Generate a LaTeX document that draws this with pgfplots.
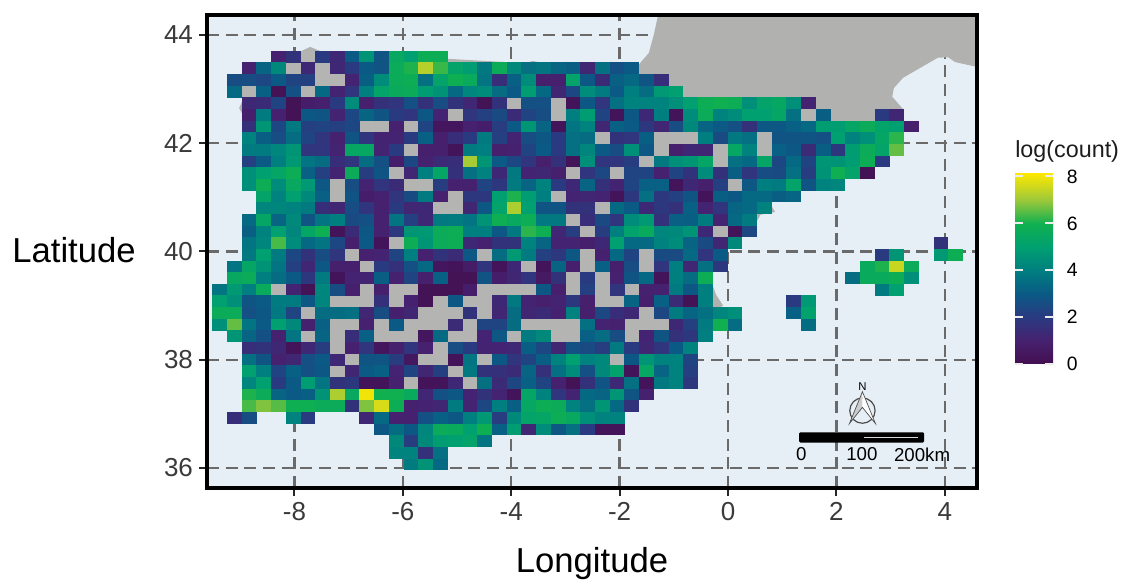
\documentclass[border=0pt]{standalone}
\usepackage{fontspec}
\setmainfont{Liberation Sans}
\usepackage{pgfplots}
\usepackage{pgfplotstable}
\pgfplotsset{compat=1.18}
% grid under the cells and the land, frame over them
\pgfplotsset{layers/gridunder/.define layer set={axis background,axis grid,pre main,main,axis ticks,axis lines,axis tick labels,axis descriptions,axis foreground}{/pgfplots/layers/standard}}
\definecolor{sea}{HTML}{E6EFF6}
\definecolor{land}{HTML}{B1B1AF}
\definecolor{nodata}{HTML}{B4B4B2}
\definecolor{gridc}{HTML}{6A6A6A}
\definecolor{tickc}{HTML}{3A3A3A}
% one map cell: 14.72 x 11.67 px at 0.75pt per px
\pgfdeclareplotmark{cell}{\pgfpathrectangle{\pgfpoint{-5.55pt}{-4.42pt}}{\pgfpoint{11.1pt}{8.84pt}}\pgfusepathqfill}
% grid cells: column, row, log(count)
\pgfplotstableread[row sep=crcr]{
c r v\\
4 0 1\\5 0 1.7\\7 0 2\\8 0 1.3\\9 0 3\\10 0 4.6\\11 0 2.8\\12 0 5.5\\13 0 5\\14 0 5.8\\15 0 5.8\\
2 1 1\\3 1 3.3\\4 1 4.3\\6 1 1.3\\8 1 1.3\\9 1 2\\10 1 3\\11 1 2.8\\12 1 5.7\\13 1 6.1\\14 1 7.3\\15 1 6.3\\16 1 5.2\\17 1 4.9\\18 1 3.8\\19 1 5.7\\20 1 4.3\\21 1 3.6\\22 1 3.7\\23 1 3.3\\24 1 3.1\\25 1 1.2\\26 1 3.6\\27 1 2.7\\28 1 3\\
1 2 2.6\\2 2 2.6\\3 2 2.4\\4 2 3\\5 2 2.3\\6 2 2.2\\9 2 1.1\\10 2 3.1\\11 2 4.4\\12 2 5.7\\13 2 5.8\\14 2 3.6\\15 2 5.2\\16 2 5.9\\17 2 5.6\\18 2 3.7\\19 2 1.5\\20 2 3.2\\21 2 4.4\\22 2 .9\\23 2 .9\\24 2 5.2\\25 2 2.9\\26 2 1.4\\27 2 3.2\\28 2 3.4\\29 2 2.8\\30 2 1.5\\
1 3 3.4\\3 3 3.2\\4 3 .2\\5 3 2.7\\7 3 3.4\\8 3 1.1\\9 3 1.8\\10 3 4\\11 3 5.2\\12 3 5.6\\13 3 5.7\\14 3 4.9\\15 3 4.6\\16 3 3.4\\17 3 4.2\\18 3 4.4\\19 3 3.5\\20 3 3\\21 3 4.9\\22 3 3.4\\23 3 1.2\\24 3 2.4\\25 3 4.4\\26 3 3.9\\27 3 3\\28 3 4\\29 3 3.5\\30 3 4.8\\31 3 5\\
2 4 1.3\\3 4 1.4\\4 4 2.3\\5 4 .2\\6 4 .8\\7 4 .9\\8 4 2\\9 4 4.4\\10 4 .9\\11 4 1.6\\12 4 1.8\\13 4 2.7\\14 4 1.6\\15 4 2.6\\16 4 1.7\\17 4 1.2\\18 4 .2\\19 4 1.7\\21 4 2.7\\22 4 2.7\\24 4 .3\\25 4 2.9\\26 4 1.8\\27 4 3.6\\28 4 4.1\\29 4 4.1\\30 4 4.1\\31 4 4.5\\32 4 5\\33 4 5.8\\34 4 6\\35 4 5.8\\36 4 4.5\\37 4 5.2\\38 4 5.4\\39 4 4.5\\40 4 1.1\\
2 5 .9\\3 5 3.9\\4 5 1\\5 5 .2\\6 5 2.9\\7 5 2.8\\8 5 1.1\\9 5 2.4\\10 5 3.3\\11 5 2.8\\12 5 2\\13 5 1.8\\14 5 2.9\\15 5 1.1\\17 5 1.8\\18 5 2.2\\19 5 2.5\\20 5 1.4\\21 5 2.3\\22 5 2.6\\24 5 4\\25 5 4.9\\26 5 2.3\\27 5 .3\\28 5 2.9\\29 5 1.3\\30 5 4\\31 5 .3\\32 5 4.4\\33 5 5.7\\34 5 4.1\\35 5 4.4\\36 5 5\\37 5 5\\38 5 5.3\\39 5 3.6\\41 5 3.1\\45 5 2\\46 5 1.2\\
2 6 1.6\\3 6 4.7\\4 6 2.4\\5 6 3.8\\6 6 2.2\\7 6 2.3\\8 6 2.2\\9 6 2.4\\12 6 1\\14 6 2.3\\15 6 .4\\16 6 .4\\17 6 1\\18 6 .8\\19 6 2.1\\20 6 3\\21 6 4.7\\22 6 3.3\\23 6 .3\\24 6 3.7\\25 6 4.1\\26 6 1.2\\27 6 3.2\\28 6 3\\29 6 1.9\\30 6 1.2\\31 6 2.6\\32 6 4.3\\33 6 3.3\\34 6 3\\35 6 2.7\\36 6 1.6\\37 6 2.9\\38 6 2.9\\39 6 3.2\\40 6 3.4\\41 6 4.9\\42 6 4.9\\43 6 5.3\\44 6 5.7\\45 6 5.2\\46 6 5\\47 6 .9\\
2 7 4.1\\3 7 3.1\\4 7 2.6\\5 7 3.5\\6 7 2.3\\7 7 1.8\\8 7 1\\9 7 2.8\\10 7 1.8\\11 7 1.1\\12 7 1.1\\13 7 2\\14 7 3.2\\15 7 .9\\16 7 1.5\\17 7 2\\18 7 3.9\\19 7 2.2\\20 7 1.1\\21 7 2.6\\22 7 2.9\\23 7 2\\24 7 3.6\\25 7 3.5\\27 7 1.7\\28 7 1.8\\29 7 3.1\\33 7 4\\34 7 2.5\\35 7 3.8\\36 7 3.6\\38 7 2.8\\39 7 2.8\\40 7 2.8\\41 7 2.7\\42 7 5\\43 7 4.1\\44 7 4.5\\45 7 5.3\\46 7 6.2\\
2 8 3.9\\3 8 3.9\\4 8 4.2\\5 8 4.7\\6 8 1.8\\7 8 1.8\\8 8 1.1\\9 8 5.4\\10 8 5.4\\11 8 1.1\\12 8 2\\14 8 .9\\15 8 .9\\16 8 .3\\17 8 3.9\\18 8 4\\19 8 .9\\20 8 1\\21 8 2.3\\22 8 3\\23 8 2\\24 8 3.6\\25 8 4.2\\26 8 3\\27 8 2.6\\28 8 4.5\\29 8 2.9\\31 8 .9\\32 8 1.3\\33 8 1.2\\35 8 5.4\\36 8 4.1\\38 8 3.2\\39 8 2.9\\40 8 1.4\\41 8 3.1\\42 8 1.9\\43 8 4.9\\44 8 5.7\\45 8 5.2\\46 8 6.6\\
2 9 2.2\\3 9 3\\4 9 4\\5 9 4.8\\6 9 3.7\\7 9 3.5\\8 9 1.5\\9 9 1.8\\10 9 3.5\\11 9 2.7\\12 9 .8\\13 9 2.4\\14 9 1\\15 9 1.4\\16 9 1.5\\17 9 7.1\\18 9 4.7\\19 9 3\\20 9 2.4\\21 9 1.8\\22 9 .9\\23 9 1.6\\24 9 .3\\25 9 4.5\\26 9 1.8\\27 9 1.8\\28 9 2.1\\30 9 3.8\\31 9 4.5\\32 9 4.7\\33 9 5.3\\35 9 3.6\\36 9 3.4\\37 9 5.3\\38 9 2.4\\39 9 3.4\\40 9 2.3\\41 9 4.7\\42 9 4.6\\43 9 4.9\\44 9 5.8\\45 9 2\\
2 10 4.5\\3 10 5\\4 10 5.3\\5 10 5.8\\6 10 3.2\\7 10 2.2\\8 10 1.1\\9 10 5.7\\10 10 2.1\\11 10 2.8\\13 10 1.2\\14 10 4\\15 10 5.3\\16 10 1.6\\17 10 3.6\\18 10 4.1\\19 10 1.3\\20 10 3.8\\21 10 1.1\\22 10 1.2\\23 10 .9\\25 10 1.8\\26 10 2.4\\28 10 2.3\\29 10 2.3\\30 10 1\\31 10 2.3\\32 10 1.7\\33 10 4.4\\34 10 1.6\\35 10 3.1\\36 10 1.8\\37 10 2.6\\38 10 2.5\\39 10 3.6\\40 10 2.1\\41 10 4.6\\42 10 5.9\\43 10 5.2\\44 10 .2\\
2 11 4.5\\3 11 5.8\\4 11 4.4\\5 11 5.5\\6 11 4.8\\7 11 2.9\\9 11 2.6\\10 11 1.1\\11 11 1.8\\12 11 1.4\\15 11 2.1\\16 11 1\\17 11 1\\18 11 2.3\\19 11 1.9\\20 11 3.9\\21 11 3.3\\22 11 4.1\\23 11 2\\24 11 1.3\\25 11 3.3\\26 11 1.6\\27 11 1.1\\28 11 2.3\\29 11 3.2\\30 11 3.2\\31 11 .3\\32 11 1.3\\33 11 .9\\34 11 2.2\\36 11 2.9\\37 11 4\\38 11 3.9\\39 11 5.2\\40 11 2.8\\41 11 4.1\\42 11 4.2\\
3 12 5.2\\4 12 4.1\\5 12 5\\6 12 4.3\\7 12 3.2\\9 12 2.8\\10 12 .8\\11 12 1\\12 12 1.8\\13 12 2.5\\14 12 3.9\\15 12 1\\17 12 1.9\\18 12 1.9\\19 12 5\\20 12 6.1\\21 12 4.9\\22 12 4\\24 12 1.1\\25 12 1.2\\26 12 1.1\\27 12 .3\\28 12 1.9\\29 12 3.6\\30 12 1.9\\31 12 2.2\\32 12 2.8\\33 12 .3\\34 12 3.1\\35 12 2.9\\36 12 3.4\\37 12 3.4\\38 12 3.1\\39 12 3.3\\
3 13 4.2\\4 13 4.2\\5 13 4.1\\6 13 3.9\\7 13 1.5\\8 13 1.2\\9 13 2.6\\10 13 1.8\\11 13 1\\12 13 2\\13 13 1.2\\14 13 1.3\\17 13 1.2\\18 13 2.9\\19 13 5.2\\20 13 7.2\\21 13 5\\22 13 2.8\\23 13 2.8\\24 13 1.7\\25 13 1.7\\27 13 3.4\\28 13 3\\29 13 1.3\\30 13 1.9\\31 13 1.6\\32 13 3.2\\33 13 1.1\\34 13 1.8\\35 13 3.3\\36 13 3.4\\37 13 4.1\\
2 14 3.4\\3 14 5.3\\4 14 3.3\\5 14 4.3\\6 14 2.8\\7 14 3.7\\8 14 4\\9 14 2.5\\10 14 2.7\\11 14 1\\12 14 3.7\\13 14 2.2\\14 14 1.3\\15 14 3.8\\16 14 3.9\\17 14 3.7\\18 14 4.6\\19 14 5.9\\20 14 5.5\\21 14 5.8\\22 14 3.8\\23 14 3.8\\25 14 1.5\\26 14 2.5\\27 14 1.8\\28 14 4.4\\29 14 4.8\\30 14 1.6\\31 14 3.2\\32 14 3.1\\33 14 3.9\\34 14 1.1\\35 14 3.4\\36 14 3.9\\
2 15 3.1\\3 15 4.1\\4 15 5\\5 15 4.2\\6 15 5.3\\7 15 5.9\\8 15 .3\\9 15 1.4\\10 15 2.9\\11 15 1\\12 15 1.9\\13 15 4.7\\14 15 4.8\\15 15 5.7\\16 15 5.8\\17 15 4\\18 15 4\\19 15 2.9\\20 15 3.8\\21 15 6.2\\22 15 5.9\\23 15 1.2\\24 15 2.1\\26 15 2.1\\27 15 4\\28 15 5.1\\29 15 5.6\\30 15 4.2\\31 15 4.3\\32 15 4.6\\33 15 1.3\\35 15 .3\\36 15 2.4\\
2 16 3.7\\3 16 4.2\\4 16 6.4\\5 16 4.4\\6 16 3.4\\7 16 3.7\\8 16 2.4\\9 16 .9\\10 16 3\\11 16 .3\\13 16 5.8\\14 16 4.7\\15 16 5.7\\16 16 5.8\\17 16 1.3\\18 16 1\\19 16 1.7\\20 16 1.7\\21 16 4.1\\22 16 3.3\\23 16 1.1\\24 16 1.1\\25 16 .9\\26 16 1.3\\27 16 5\\28 16 3.4\\29 16 3.4\\30 16 4.1\\31 16 4.4\\32 16 3.3\\33 16 2.5\\34 16 1.2\\35 16 4.3\\49 16 1.7\\
2 17 3.8\\3 17 5\\4 17 3.9\\5 17 2.4\\6 17 1.7\\7 17 2.6\\8 17 1.8\\10 17 1\\11 17 1.1\\12 17 2.3\\13 17 4\\14 17 1\\15 17 1.7\\16 17 1.4\\17 17 2.9\\19 17 3.5\\20 17 4.8\\21 17 3.9\\22 17 2.2\\23 17 1.9\\24 17 2.9\\26 17 1\\27 17 3.4\\28 17 2.3\\30 17 2.5\\31 17 2.5\\32 17 3.4\\33 17 1.8\\34 17 3\\45 17 2\\46 17 4.7\\49 17 4.8\\50 17 5.8\\
1 18 3.7\\2 18 5.3\\3 18 4.6\\4 18 3.7\\5 18 2.2\\6 18 1.2\\7 18 2.9\\8 18 .9\\9 18 .9\\11 18 2\\12 18 1.6\\13 18 2.7\\14 18 3.4\\15 18 .4\\16 18 .3\\17 18 .7\\18 18 1.8\\19 18 .3\\20 18 1.3\\22 18 .3\\23 18 3.3\\24 18 .9\\26 18 3.2\\27 18 .9\\28 18 2.6\\30 18 1.8\\31 18 4\\32 18 1.2\\33 18 3.6\\34 18 1.9\\44 18 5.6\\45 18 6.1\\46 18 7.5\\47 18 5.7\\
1 19 5.5\\2 19 5.7\\3 19 4\\4 19 3.5\\5 19 3\\6 19 1.9\\7 19 3.9\\8 19 .3\\9 19 1.1\\10 19 1.1\\11 19 3.1\\12 19 1\\13 19 2.3\\14 19 .9\\15 19 3.2\\16 19 .2\\17 19 .2\\18 19 2.8\\19 19 .8\\20 19 1.2\\21 19 1.8\\22 19 .6\\23 19 1.7\\25 19 2\\27 19 1\\28 19 2.8\\29 19 3.4\\30 19 .3\\31 19 4\\32 19 3.5\\33 19 5.8\\43 19 3.5\\44 19 5.6\\45 19 5.6\\46 19 5.8\\47 19 4.5\\
0 20 3.7\\1 20 4.8\\2 20 4\\3 20 5.6\\5 20 1.1\\6 20 .2\\7 20 4.2\\8 20 2.6\\9 20 .9\\11 20 .9\\14 20 .2\\15 20 .2\\16 20 .2\\17 20 .8\\22 20 2.9\\23 20 .9\\25 20 2.2\\27 20 1.8\\29 20 1\\30 20 1\\31 20 3.9\\32 20 2.9\\33 20 4\\45 20 3.9\\46 20 5\\
0 21 5\\1 21 4.5\\2 21 2.8\\3 21 3\\4 21 3.9\\5 21 3.9\\6 21 2.9\\7 21 4.2\\11 21 1.6\\13 21 1\\14 21 .2\\16 21 2.9\\19 21 1.3\\20 21 3.8\\21 21 1.1\\22 21 .9\\23 21 1.1\\24 21 1.9\\25 21 .9\\28 21 3.3\\29 21 .9\\30 21 3.2\\31 21 1.4\\32 21 .2\\33 21 4\\39 21 2\\40 21 4.8\\
0 22 5.7\\1 22 5.7\\2 22 2.7\\3 22 2.9\\4 22 3.8\\5 22 2.3\\7 22 3.5\\8 22 3.5\\9 22 3.6\\10 22 1.2\\11 22 2.6\\12 22 .9\\13 22 1.2\\17 22 1.7\\19 22 1.2\\20 22 3.5\\21 22 1.2\\22 22 1.4\\23 22 1\\24 22 4.1\\25 22 .9\\26 22 2.4\\27 22 1.5\\28 22 1.3\\30 22 2.4\\31 22 3.9\\32 22 3.3\\33 22 3.6\\34 22 4.2\\35 22 4.5\\39 22 3.2\\40 22 5.1\\
0 23 4.5\\1 23 6.6\\2 23 3.7\\3 23 3\\4 23 5\\5 23 4.3\\6 23 1\\7 23 3.2\\10 23 1\\12 23 3\\16 23 1.4\\18 23 2.3\\19 23 2.3\\20 23 3.5\\25 23 3.6\\26 23 1.1\\27 23 1\\31 23 1.3\\32 23 2.2\\33 23 3.9\\34 23 6\\35 23 3.5\\40 23 3.5\\
1 24 4.7\\2 24 3.3\\3 24 2.7\\4 24 1\\5 24 3.7\\7 24 3.3\\9 24 1.5\\10 24 3.2\\14 24 .4\\15 24 3.4\\18 24 1.1\\19 24 2.9\\21 24 3.9\\22 24 4.3\\25 24 3.2\\26 24 3.5\\27 24 2.6\\29 24 1.1\\30 24 2.8\\31 24 1.6\\32 24 1.9\\33 24 4\\
2 25 1.5\\3 25 1.7\\4 25 1.3\\5 25 .3\\6 25 1.3\\7 25 2.1\\9 25 1\\10 25 1.8\\11 25 .4\\12 25 .9\\13 25 1.8\\14 25 1\\16 25 2.6\\17 25 2\\18 25 1.1\\19 25 1.1\\20 25 1.3\\21 25 3.1\\22 25 2.4\\23 25 1.2\\24 25 2.7\\25 25 2.5\\26 25 2.1\\27 25 3.9\\28 25 2\\29 25 1.2\\30 25 1.8\\31 25 3\\32 25 4.1\\
2 26 3.6\\3 26 2.8\\4 26 1\\5 26 1.2\\6 26 2.7\\7 26 3\\8 26 1.3\\10 26 2.8\\11 26 2.8\\12 26 2.1\\13 26 .5\\16 26 .3\\17 26 3.7\\19 26 2.9\\20 26 1.8\\21 26 2.3\\22 26 3.1\\23 26 4.1\\24 26 5\\25 26 4.1\\26 26 4.3\\28 26 2.9\\29 26 4.7\\30 26 4.1\\31 26 4.1\\32 26 2.3\\
2 27 5\\3 27 4\\4 27 2.3\\5 27 3.2\\6 27 2.7\\7 27 2.9\\9 27 1.2\\10 27 3\\11 27 3.2\\12 27 1.1\\13 27 2.3\\14 27 1.2\\15 27 2.2\\17 27 3.8\\18 27 1.7\\19 27 1.6\\20 27 1.4\\21 27 3.3\\22 27 1.6\\23 27 3.6\\24 27 4.4\\25 27 2.7\\26 27 4.3\\27 27 5.1\\28 27 .3\\29 27 5.4\\30 27 3.3\\31 27 4.1\\32 27 2.2\\
2 28 4.2\\3 28 5\\4 28 2\\5 28 3\\6 28 4.9\\7 28 3.7\\8 28 1.7\\9 28 1.9\\10 28 .3\\11 28 .3\\12 28 1\\14 28 .3\\15 28 .3\\16 28 1.3\\18 28 3.6\\19 28 1.4\\20 28 2.4\\21 28 3.2\\22 28 2.3\\23 28 1\\24 28 .2\\25 28 1.6\\26 28 2.8\\27 28 1.3\\28 28 3.6\\29 28 .3\\30 28 3.8\\31 28 4.1\\32 28 1.9\\
2 29 6.1\\3 29 5.7\\4 29 3.3\\5 29 3\\6 29 3.1\\7 29 4.6\\8 29 7.2\\9 29 5.5\\10 29 8\\11 29 6\\12 29 6\\13 29 5.6\\14 29 1.2\\15 29 2.7\\16 29 2.9\\17 29 1.1\\18 29 1.7\\19 29 1.1\\20 29 .3\\21 29 5.3\\22 29 4.1\\23 29 1.8\\24 29 1.1\\25 29 3.4\\26 29 3.3\\27 29 4.7\\28 29 2.8\\29 29 1\\
2 30 6.4\\3 30 6.8\\4 30 6.5\\5 30 5.9\\6 30 5.9\\7 30 5.7\\8 30 5.7\\9 30 1.7\\10 30 6.8\\11 30 7.7\\12 30 5.8\\13 30 1\\14 30 1.1\\15 30 1.2\\16 30 3.9\\17 30 1.1\\18 30 2.4\\19 30 4\\20 30 3.1\\21 30 5.4\\22 30 5.8\\23 30 5.7\\24 30 4.1\\25 30 3.6\\26 30 4.7\\27 30 3.4\\28 30 1.7\\
1 31 1.5\\2 31 2.6\\5 31 4.1\\6 31 2\\10 31 1.2\\11 31 3.4\\12 31 1\\13 31 1\\14 31 2.7\\15 31 3.2\\16 31 2.9\\17 31 4\\18 31 4.8\\19 31 2.1\\20 31 4.3\\21 31 5.2\\22 31 5.3\\23 31 5.8\\24 31 5.5\\25 31 4.5\\26 31 4.1\\27 31 4.1\\
11 32 2.9\\12 32 3.5\\13 32 2.9\\14 32 4.2\\15 32 5.7\\16 32 5.6\\17 32 5\\18 32 5.9\\19 32 3.2\\20 32 4.9\\21 32 1.2\\22 32 4.4\\23 32 2.9\\24 32 3.6\\25 32 2\\26 32 .3\\27 32 .3\\
12 33 4.3\\13 33 2.1\\14 33 4.3\\15 33 4.9\\16 33 5\\17 33 5.2\\18 33 3.7\\
12 34 4.1\\13 34 4.1\\14 34 1.6\\15 34 3.6\\
13 35 3.9\\14 35 4.6\\15 35 3.4\\
}\cells
% land cells without a count
\pgfplotstableread[row sep=crcr]{
c r\\
6 0\\5 1\\7 1\\7 2\\8 2\\2 3\\6 3\\20 4\\23 4\\16 5\\23 5\\40 5\\10 6\\11 6\\13 6\\
26 7\\30 7\\31 7\\32 7\\37 7\\13 8\\30 8\\34 8\\37 8\\29 9\\34 9\\12 10\\24 10\\27 10\\
8 11\\13 11\\14 11\\35 11\\8 12\\16 12\\23 12\\15 13\\16 13\\26 13\\24 14\\25 15\\34 15\\12 16\\
9 17\\18 17\\25 17\\29 17\\10 18\\21 18\\25 18\\29 18\\24 19\\26 19\\
4 20\\10 20\\12 20\\13 20\\18 20\\19 20\\20 20\\21 20\\24 20\\26 20\\28 20\\
8 21\\9 21\\10 21\\12 21\\15 21\\17 21\\18 21\\26 21\\27 21\\
6 22\\14 22\\15 22\\16 22\\18 22\\29 22\\
8 23\\9 23\\11 23\\13 23\\14 23\\15 23\\17 23\\21 23\\22 23\\23 23\\24 23\\28 23\\29 23\\30 23\\
6 24\\8 24\\11 24\\12 24\\13 24\\16 24\\17 24\\20 24\\23 24\\24 24\\28 24\\
8 25\\15 25\\9 26\\14 26\\15 26\\18 26\\27 26\\8 27\\16 27\\13 28\\17 28\\
}\nodata
\begin{document}
\begin{tikzpicture}
\begin{axis}[
  at={(0pt,0pt)},anchor=south west,
  scale only axis,width=577.5pt,height=354.75pt,
  set layers=gridunder,
  xmin=-9.613,xmax=4.594,ymin=35.63,ymax=44.37,
  xtick={-8,-6,-4,-2,0,2,4},ytick={36,38,40,42,44},
  grid=major,
  grid style={gridc,line width=1.7pt,dash pattern=on 9pt off 5pt},
  axis background/.style={fill=sea},
  axis line style={black,line width=2.4pt},
  tick align=outside,
  xtick pos=bottom,ytick pos=left,
  major tick length=6pt,
  tick style={black!85,line width=1.5pt},
  tick label style={tickc,font=\fontsize{19.5}{22}\selectfont},
  /pgf/number format/assume math mode=true,
  xticklabel style={yshift=-1.5pt},
  yticklabel style={xshift=-1pt},
  xlabel={Longitude},ylabel={Latitude},
  every axis x label/.style={at={(rel axis cs:0.5,-0.1605)},anchor=center,font=\fontsize{26}{30}\selectfont},
  every axis y label/.style={at={(rel axis cs:-0.1727,0.503)},anchor=center,font=\fontsize{26}{30}\selectfont},
  colormap={mapcols}{rgb255(0)=(67,15,80) rgb255(1)=(70,33,112) rgb255(2)=(42,58,128) rgb255(3)=(10,90,133) rgb255(4)=(0,127,128) rgb255(5)=(0,160,112) rgb255(6)=(16,176,80) rgb255(7)=(156,200,58) rgb255(8.16)=(255,232,0)},
  point meta min=0,point meta max=8.16,
  colorbar,
  colorbar/width=28.5pt,
  colorbar style={
    at={(1.0494,0.2622)},anchor=south west,
    scale only axis,height=143.25pt,
    ytick={0,2,4,6,8},
    yticklabel pos=right,
    major tick length=0pt,
    axis line style={draw=none},
    /pgf/number format/assume math mode=true,
    yticklabel style={black,font=\fontsize{14.5}{16}\selectfont,xshift=6.75pt},
  },
]
% France
\addplot[fill=land,draw=none,forget plot] coordinates {(-1.29,44.37) (-1.37,44.0) (-1.46,43.67) (-1.64,43.46) (-1.64,42.8) (2.16,42.34) (2.80,42.34) (3.23,42.63) (3.03,42.86) (3.06,43.02) (3.23,43.21) (3.87,43.58) (4.06,43.59) (4.19,43.50) (4.594,43.41) (4.594,44.37)} -- cycle;
% Iberia, mostly under the cells
\addplot[fill=land,draw=none,forget plot] coordinates {(-8.97,42.56) (-9.02,42.65) (-8.97,42.76) (-7.90,43.69) (-7.71,43.78) (-7.49,43.69) (-3.75,43.48) (-3.60,43.52) (-3.41,43.48) (-1.62,43.46) (0.79,40.86) (0.87,40.73) (0.60,40.68) (0.50,40.50) (0.22,40.25) (-0.055,40.03) (-0.30,39.66) (-0.30,39.42) (-0.22,39.20) (-0.09,39.0) (-0.28,38.89) (-7.90,38.74)} -- cycle;
\addplot[only marks,mark=cell,mark options={fill=nodata,draw=none},forget plot]
  table[x expr={-9.379+0.2716*\thisrow{c}},y expr={43.60-0.2153*\thisrow{r}}] {\nodata};
\addplot[scatter,only marks,mark=cell,scatter src=explicit,scatter/use mapped color={fill=mapped color,draw=none}]
  table[x expr={-9.379+0.2716*\thisrow{c}},y expr={43.60-0.2153*\thisrow{r}},meta=v] {\cells};
% borders showing through the grey cells
\draw[white!85!gray,line width=0.5pt] (axis cs:-6.92,40.03) -- (axis cs:-6.96,39.85);
\draw[white!85!gray,line width=0.5pt] (axis cs:-7.20,39.18) -- (axis cs:-7.01,39.07) -- (axis cs:-7.01,38.98);
\draw[white!85!gray,line width=0.5pt] (axis cs:-7.27,38.74) -- (axis cs:-7.32,38.50) -- (axis cs:-7.20,38.32) -- (axis cs:-7.07,38.13) -- (axis cs:-7.01,38.06);
\draw[white!85!gray,line width=0.5pt] (axis cs:1.38,42.62) -- (axis cs:1.38,42.43) -- (axis cs:1.61,42.43);
% scale bar
\fill[black,rounded corners=1pt] (axis cs:1.31,36.66) rectangle (axis cs:3.62,36.47);
\fill[white!85!black] (axis cs:2.50,36.575) rectangle (axis cs:3.50,36.545);
\node[font=\fontsize{14}{16}\selectfont,anchor=center] at (axis cs:1.35,36.25) {0};
\node[font=\fontsize{14}{16}\selectfont,anchor=center] at (axis cs:2.47,36.25) {100};
\node[font=\fontsize{14}{16}\selectfont,anchor=center] at (axis cs:3.58,36.25) {200km};
% north arrow
\draw[black!70,line width=0.9pt] (axis cs:2.48,37.06) circle[radius=9.5pt];
\fill[black!20] (axis cs:2.48,37.41) -- (axis cs:2.24,36.82) -- (axis cs:2.48,37.12) -- cycle;
\fill[white] (axis cs:2.48,37.41) -- (axis cs:2.72,36.82) -- (axis cs:2.48,37.12) -- cycle;
\draw[black!70,line width=0.5pt] (axis cs:2.48,37.41) -- (axis cs:2.24,36.82) -- (axis cs:2.48,37.12) -- (axis cs:2.72,36.82) -- cycle;
\node[font=\fontsize{8.5}{10}\selectfont] at (axis cs:2.48,37.50) {N};
\end{axis}
\node[anchor=west,font=\fontsize{17.5}{20}\selectfont,tickc!50!black,inner sep=0pt] at (606pt,252.75pt) {log(count)};
% colour bar ticks, white, on both sides
\foreach \v in {0,2,4,6,8} {
  \draw[white!85!gray,line width=0.8pt] (606pt,93pt+\v*17.625pt) -- ++(6pt,0);
  \draw[white!85!gray,line width=0.8pt] (634.5pt,93pt+\v*17.625pt) -- ++(-6pt,0);
}
\pgfresetboundingbox
\path[use as bounding box] (-155.25pt,-68.25pt) rectangle (688.5pt,366pt);
\end{tikzpicture}
\end{document}
